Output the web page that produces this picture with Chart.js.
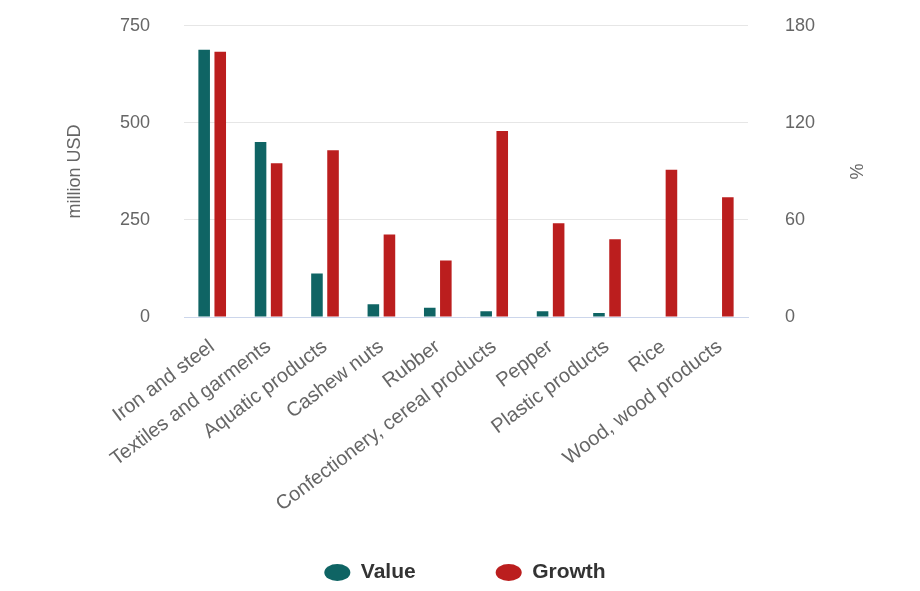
<!DOCTYPE html>
<html>
<head>
<meta charset="utf-8">
<script src="https://cdn.jsdelivr.net/npm/chart.js@4"></script>
<style>
  html, body { margin: 0; padding: 0; background: #fff; }
  #wrap { width: 920px; height: 591px; }
</style>
</head>
<body>
<div id="wrap"><canvas id="myChart"></canvas></div>
<script>
const categories = ['Iron and steel', 'Textiles and garments', 'Aquatic products', 'Cashew nuts', 'Rubber',
    'Confectionery, cereal products', 'Pepper', 'Plastic products', 'Rice', 'Wood, wood products'];
const valueMillionUSD = [688, 451, 112, 33, 24, 15, 15, 10, 0, 0];
const growthPercent = [164, 95, 103, 51, 35, 115, 58, 48, 91, 74];
const leftTicks = [0, 250, 500, 750];
const rightTicks = [0, 60, 120, 180];

const font = 'Liberation Sans, Arial, sans-serif';

// let the rotated x labels run past the axis box instead of being clipped
const labelRoom = {
    id: 'labelRoom',
    afterLayout: chart => { chart.scales.x.bottom = chart.height; }
};

let ctx = document.getElementById('myChart').getContext('2d');
let chart = new Chart(ctx, {
    type: 'bar',
    data: {
        labels: categories,
        datasets: [{
            label: 'Value',
            data: valueMillionUSD,
            backgroundColor: '#0f6464',
            yAxisID: 'y',
            categoryPercentage: 0.57,
            barPercentage: 0.72
        }, {
            label: 'Growth',
            data: growthPercent,
            backgroundColor: '#bb1e1e',
            yAxisID: 'y1',
            categoryPercentage: 0.57,
            barPercentage: 0.72
        }]
    },
    plugins: [labelRoom],
    options: {
        responsive: true,
        maintainAspectRatio: false,
        animation: false,
        layout: { padding: { left: 60, right: 50, top: 0, bottom: -2 } },
        plugins: {
            tooltip: { enabled: false },
            legend: {
                position: 'bottom',
                labels: {
                    usePointStyle: true,
                    pointStyle: 'circle',
                    pointStyleWidth: 26,
                    boxHeight: 12,
                    padding: 80,
                    color: '#333',
                    font: { family: font, size: 21, weight: 'bold' }
                }
            }
        },
        scales: {
            x: {
                grid: { display: false },
                border: { color: '#ccd6eb' },
                ticks: {
                    color: '#666',
                    font: { family: font, size: 20 },
                    minRotation: 37,
                    maxRotation: 37,
                    autoSkip: false,
                    padding: 10
                },
                afterFit: scale => { scale.height = 165; }
            },
            y: {
                position: 'left',
                min: 0,
                max: 750,
                afterBuildTicks: scale => { scale.ticks = leftTicks.map(v => ({ value: v })); },
                grid: { color: '#e6e6e6', tickLength: 19, tickColor: 'rgba(0,0,0,0)' },
                border: { display: false },
                ticks: { color: '#666', padding: 15, font: { family: font, size: 18 } },
                title: {
                    display: true,
                    text: 'million USD',
                    color: '#666',
                    font: { family: font, size: 18 }
                },
                afterFit: scale => { scale.width = 124; }
            },
            y1: {
                position: 'right',
                min: 0,
                max: 180,
                afterBuildTicks: scale => { scale.ticks = rightTicks.map(v => ({ value: v })); },
                grid: { drawOnChartArea: false, tickLength: 22, tickColor: 'rgba(0,0,0,0)' },
                border: { display: false },
                ticks: { color: '#666', padding: 15, font: { family: font, size: 18 } },
                title: {
                    display: true,
                    text: '%',
                    color: '#666',
                    font: { family: font, size: 18 }
                },
                afterFit: scale => { scale.width = 122; }
            }
        }
    }
});
</script>
</body>
</html>
